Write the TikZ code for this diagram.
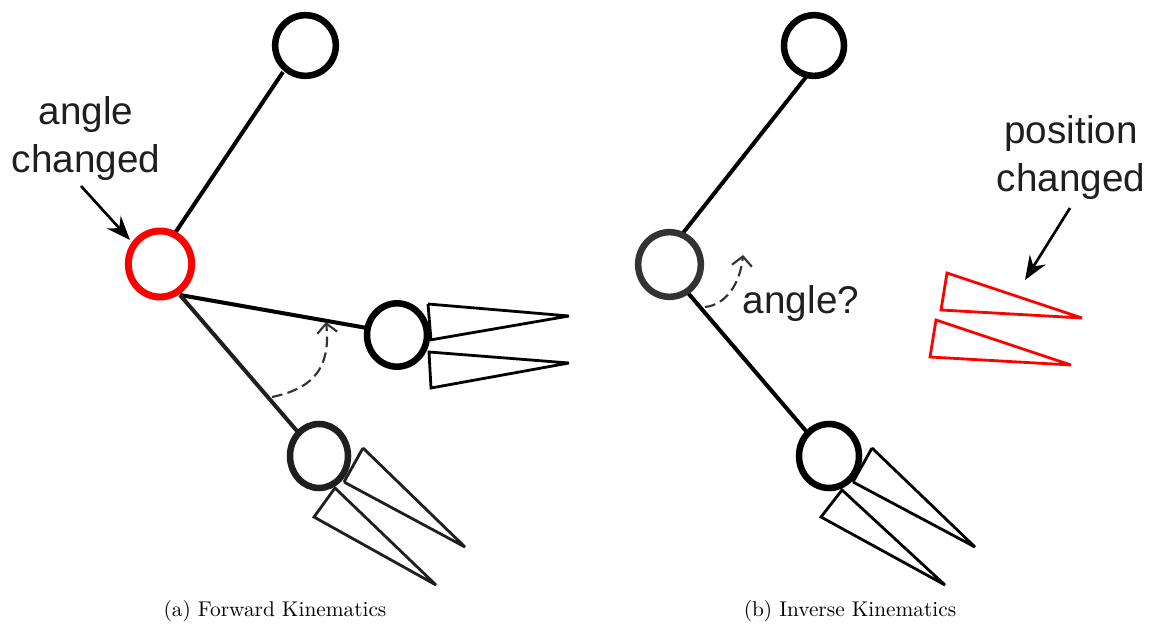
\documentclass[tikz,border=0pt]{standalone}
\usepackage{fontspec}
\setsansfont{Liberation Sans}
\usetikzlibrary{arrows.meta,shapes.geometric}
\definecolor{ink}{gray}{0.12}
\definecolor{inkb}{gray}{0.2}
\tikzset{
  x=0.75pt,y=-0.75pt,
  joint/.style={ellipse,draw,line width=4.9pt,inner sep=0pt,minimum width=#1,fill=white},
  link/.style={line width=3pt,draw=black},
  finger/.style={line width=2.1pt,draw=black,line join=miter,miter limit=4},
  redfinger/.style={line width=2.1pt,draw=red,line join=miter,miter limit=4},
  callout/.style={line width=2pt,-{Stealth[length=18pt,width=14pt,inset=6pt]}},
  swing/.style={line width=1.6pt,draw=inkb,dash pattern=on 8pt off 4pt,-{Straight Barb[length=7pt,width=15pt]}},
  lab/.style={font=\sffamily\fontsize{29}{36}\selectfont,color=ink,align=center,inner sep=0pt},
  captext/.style={font=\fontsize{10}{12}\selectfont,scale=1.6,inner sep=0pt,anchor=base},
}
\begin{document}
\begin{tikzpicture}
\useasboundingbox (0,0) rectangle (1154,624);
% --- left: forward kinematics
\coordinate (aShoulderOut) at (283,72);
\coordinate (aElbowIn) at (175,233);
\coordinate (aElbowOut) at (180,295);
\coordinate (aNewIn) at (367,328);
\coordinate (aOldIn) at (297,431);
\coordinate (aSwingS) at (272,397);
\coordinate (aSwingE) at (326,322);
\coordinate (aCallS) at (81,186);
\coordinate (aCallE) at (130,240);
\draw[link] (aShoulderOut) -- (aElbowIn);
\draw[link] (aElbowOut) -- (aNewIn);
\draw[link,draw=ink] (aElbowOut) -- (aOldIn);
\draw[finger] (428,304) -- (569,316) -- (430,340);
\draw[finger] (428,304) -- (431,340);
\draw[finger] (429,352) -- (569,363) -- (431,388) -- cycle;
\draw[finger,draw=ink] (363,448) -- (465,547) -- (344,482);
\draw[finger,draw=ink] (363,448) -- (344,482);
\draw[finger,draw=ink] (335,488) -- (436,585) -- (314,517) -- cycle;
\node[joint=45.5pt,minimum height=45.5pt] (aTop) at (305.5,45.5) {};
\node[joint=47.5pt,minimum height=49.5pt,draw=red,line width=5.2pt] (aElbow) at (160,264) {};
\node[joint=45pt,minimum height=47.5pt] (aNew) at (397,335) {};
\node[joint=43.5pt,minimum height=48pt,draw=ink] (aOld) at (319,456) {};
\draw[swing] (aSwingS) .. controls (305,390) and (332,375) .. (aSwingE);
\draw[callout] (aCallS) -- (aCallE);
\node[lab] (aLabel) at (86,139) {angle\\changed};
\node[captext] (aCap) at (275,616) {(a) Forward Kinematics};
% --- right: inverse kinematics
\coordinate (bShoulderOut) at (810,72);
\coordinate (bElbowIn) at (683,233);
\coordinate (bElbowOut) at (688,293);
\coordinate (bHandIn) at (806,431);
\coordinate (bSwingS) at (705,307);
\coordinate (bSwingE) at (743,255);
\coordinate (bCallS) at (1070,208);
\coordinate (bCallE) at (1025,280);
\draw[link] (bShoulderOut) -- (bElbowIn);
\draw[link] (bElbowOut) -- (bHandIn);
\draw[finger] (872,448) -- (975,547) -- (853,482);
\draw[finger] (872,448) -- (853,482);
\draw[finger] (842,490) -- (945,585) -- (821,517) -- cycle;
\draw[redfinger] (947,273) -- (1082,318) -- (941,310) -- cycle;
\draw[redfinger] (936,320) -- (1071,365) -- (930,357) -- cycle;
\node[joint=45pt,minimum height=45.5pt] (bTop) at (814,45.5) {};
\node[joint=47pt,minimum height=48.5pt,draw=inkb] (bElbow) at (669.5,264.5) {};
\node[joint=45pt,minimum height=48pt] (bHand) at (829,456) {};
\draw[swing] (bSwingS) .. controls (725,305) and (740,285) .. (bSwingE);
\draw[callout] (bCallS) -- (bCallE);
\node[lab] (bAngle) at (801,304) {angle?};
\node[lab] (bLabel) at (1071,158) {position\\changed};
\node[captext] (bCap) at (850,616) {(b) Inverse Kinematics};
\end{tikzpicture}
\end{document}
